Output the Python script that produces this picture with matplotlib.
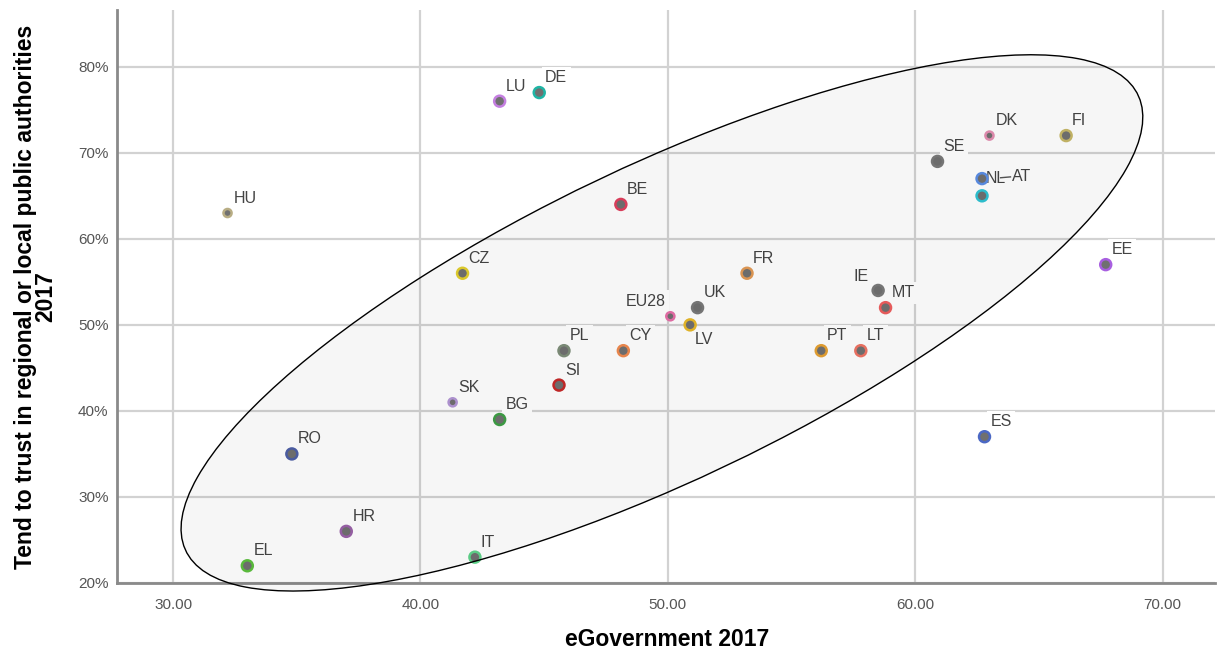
import matplotlib
matplotlib.use("Agg")
import matplotlib.pyplot as plt
from matplotlib.patches import Ellipse
from matplotlib.ticker import FuncFormatter

plt.rcParams['font.family'] = ['Liberation Sans', 'DejaVu Sans']

# Country codes, eGovernment index and share trusting regional/local authorities
countries = ['HU', 'LU', 'DE', 'BE', 'CZ', 'EU28', 'UK', 'LV', 'PL', 'CY',
             'SI', 'SK', 'BG', 'FR', 'IE', 'MT', 'PT', 'LT', 'ES', 'EE',
             'DK', 'FI', 'SE', 'NL', 'AT', 'RO', 'HR', 'EL', 'IT']
egov = [32.2, 43.2, 44.8, 48.1, 41.7, 50.1, 51.2, 50.9, 45.8, 48.2,
        45.6, 41.3, 43.2, 53.2, 58.5, 58.8, 56.2, 57.8, 62.8, 67.7,
        63.0, 66.1, 60.9, 62.7, 62.7, 34.8, 37.0, 33.0, 42.2]
trust = [63, 76, 77, 64, 56, 51, 52, 50, 47, 47,
         43, 41, 39, 56, 54, 52, 47, 47, 37, 57,
         72, 72, 69, 67, 65, 35, 26, 22, 23]

x_ticks = [30, 40, 50, 60, 70]
y_ticks = [20, 30, 40, 50, 60, 70, 80]

# Ring colour of each country's marker
ring = {
    'HU': '#b8ad84', 'LU': '#c47fe0', 'DE': '#1fb5a5', 'BE': '#e0405e',
    'CZ': '#e3cf2d', 'EU28': '#e76fa8', 'UK': '#7a7a7a', 'LV': '#e8b92a',
    'PL': '#7f8f7a', 'CY': '#f08a4f', 'SI': '#c62828', 'SK': '#b497d6',
    'BG': '#3f9f46', 'FR': '#e29a55', 'IE': '#7a7a7a', 'MT': '#ee5e5e',
    'PT': '#e6a132', 'LT': '#ef7464', 'ES': '#4b68c4', 'EE': '#a85fe0',
    'DK': '#e58fb2', 'FI': '#c8b868', 'SE': '#7a7a7a', 'NL': '#5b8ee6',
    'AT': '#2fc3d3', 'RO': '#4d5fa6', 'HR': '#9a62a8', 'EL': '#5dc03f',
    'IT': '#5fd38a',
}
small = {'HU', 'SK', 'DK', 'EU28'}

# Label offsets in pixels (dx, dy, horizontal alignment)
default_offset = (6, 15, 'left')
label_offset = {
    'LV': (5, -15, 'left'),
    'IE': (-10, 14, 'right'),
    'EU28': (-5, 15, 'right'),
    'NL': (4, 0, 'left'),
    'AT': (30, 19, 'left'),
}

fig = plt.figure(figsize=(12.17, 6.56), dpi=100)
ax = fig.add_axes([0.0961, 0.1113, 0.9019, 0.8735])
ax.set_xlim(27.73, 72.1)
ax.set_ylim(20, 86.6)

ax.set_axisbelow(True)
ax.grid(True, color='#d2d2d2', linewidth=1.6)
ax.set_xticks(x_ticks)
ax.set_yticks(y_ticks)
ax.xaxis.set_major_formatter(FuncFormatter(lambda v, p: f'{v:.2f}'))
ax.yaxis.set_major_formatter(FuncFormatter(lambda v, p: f'{v:.0f}%'))
ax.tick_params(length=0, labelsize=11, labelcolor='#555555')
ax.tick_params(axis='x', pad=11)
ax.tick_params(axis='y', pad=6)
for side in ('top', 'right'):
    ax.spines[side].set_visible(False)
for side in ('left', 'bottom'):
    ax.spines[side].set_color('#8a8a8a')
    ax.spines[side].set_linewidth(2)

sizes = [34 if c in small else 62 for c in countries]
ax.scatter(egov, trust, s=sizes, c='#707070',
           edgecolors=[ring[c] for c in countries], linewidths=1.8, zorder=4)

for c, xv, yv in zip(countries, egov, trust):
    dx, dy, ha = label_offset.get(c, default_offset)
    ax.annotate(c, (xv, yv), xytext=(dx, dy), textcoords='offset pixels',
                ha=ha, va='center', fontsize=11.5, color='#444444', zorder=3,
                bbox=dict(boxstyle='square,pad=0.22', fc='white', ec='none'))
    if c == 'AT':
        # short leader stroke in front of the AT label
        ax.plot([xv + 0.75, xv + 1.15], [yv + 2.1, yv + 2.2],
                color='#555555', lw=1, zorder=3)

# Highlighted cluster
ax.add_patch(Ellipse((49.76, 50.23), width=70.03, height=22.18, angle=61.27,
                     facecolor=(0, 0, 0, 0.035), edgecolor='black',
                     linewidth=1, zorder=5, clip_on=False))

fig.text(36 / 1217, 1 - 297 / 656,
         'Tend to trust in regional or local public authorities\n2017',
         rotation=90, ha='center', va='center', multialignment='center',
         fontsize=16.5, fontweight='bold', linespacing=0.85)
fig.text(667 / 1217, 1 - 640 / 656, 'eGovernment 2017',
         ha='center', va='center', fontsize=16.5, fontweight='bold')

fig.savefig('out.png', dpi=100)
